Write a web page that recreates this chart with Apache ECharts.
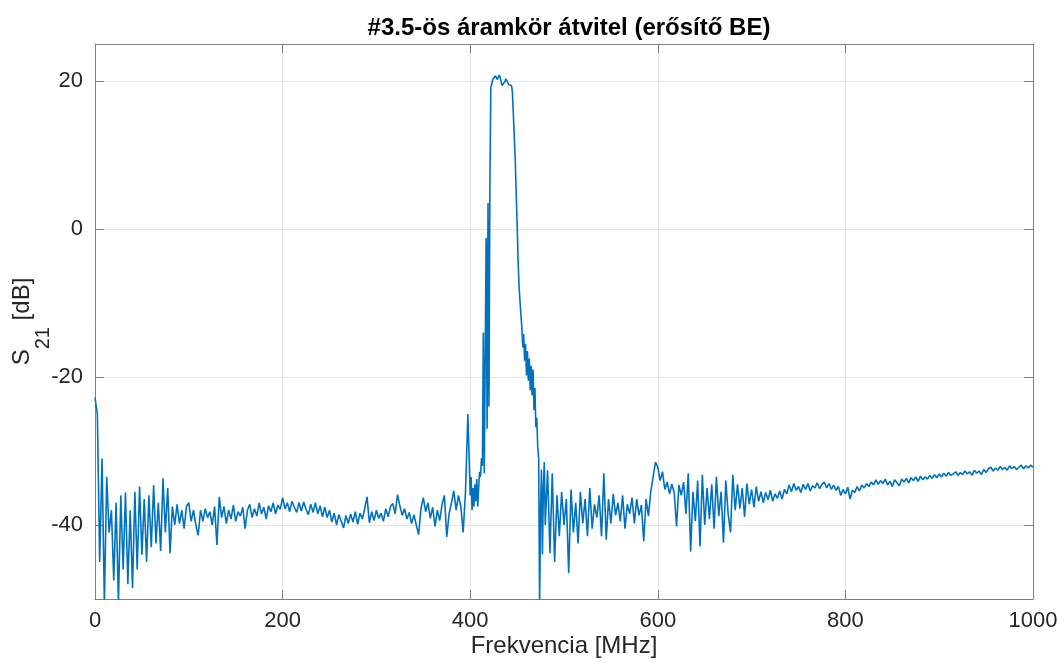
<!DOCTYPE html>
<html>
<head>
<meta charset="utf-8">
<script src="https://cdn.jsdelivr.net/npm/echarts@6/dist/echarts.min.js"></script>
<style>
html, body { margin: 0; padding: 0; background: #fff; }
#chart { width: 1062px; height: 662px; }
</style>
</head>
<body>
<div id="chart"></div>
<script>
// S21 meres - also resz (0..397.5 MHz, 2.5 MHz lepes)
var lowStart = 0, lowStep = 2.5;
var lowDb = [
    -22.8, -25, -45, -31, -50.5, -33.5, -41, -38, -47.5, -37,
    -50.5, -36, -46, -35.6, -48, -38, -48.5, -35.5, -46, -34.8,
    -44, -36.5, -45, -36, -43, -34.6, -42.5, -37, -43.5, -33.7,
    -41, -35, -43.8, -37.5, -40, -37.2, -39.8, -38, -40.5, -37.5,
    -37, -39.5, -38, -40, -41.4, -38, -39.5, -37.8, -39, -38.2,
    -40, -37.5, -42.7, -36.2, -39, -37.5, -39.8, -38, -39.2, -37.3,
    -39.5, -38.2, -38.8, -37.6, -40.5, -38, -37.2, -39, -37.8, -38.8,
    -37, -38.5, -37.6, -39.2, -37.4, -38.2, -37, -38.5, -37.3, -37.9,
    -36.3, -37.8, -37, -38.2, -36.8, -37.6, -38.3, -37, -38.1, -36.9,
    -37.9, -38.6, -37.2, -38.3, -37, -38.5, -37.4, -38.9, -37.6, -39,
    -38, -39.6, -38.4, -40, -38.6, -39.5, -40.4, -38.7, -39.8, -38.5,
    -39.6, -38.2, -39.9, -38.4, -39.2, -37.8, -36.2, -39.7, -38.2, -39.4,
    -38, -39.1, -38.4, -39.5, -37.8, -38.9, -37.5, -37.1, -38.5, -35.9,
    -37.4, -38.7, -37.8, -39.2, -38.3, -39.8, -38.6, -40, -41.3, -37.8,
    -36.3, -38.2, -37, -39.1, -37.6, -40.2, -38, -39.4, -37.2, -36,
    -41.6, -38.5, -37, -35.4, -38, -36, -37.5, -41, -35.5, -25
];

// atviteli sav (400..480 MHz, 1 MHz lepes)
var bandStart = 400, bandStep = 1;
var bandDb = [
    -36, -33.5, -38, -35, -37.5, -34.5, -36.8, -33.8, -37.5, -35,
    -32.8, -33.5, -31, -32, -14, -33, -17, -1.2, -27, 3.5,
    -24, 6, 19.2, 19.6, 20.2, 20.4, 20.3, 20.7, 20.5, 20.2,
    20.5, 20.8, 20.5, 19.9, 19.4, 19.3, 19.4, 19.9, 20.3, 20.2,
    19.8, 19.5, 19.5, 19.7, 19.4, 18.5, 15.5, 12.5, 9.3, 5,
    0.8, -4, -7.5, -9.6, -11.5, -13.2, -16, -14.2, -17.8, -15.5,
    -19.8, -16.5, -20.5, -17.5, -21.8, -18.5, -22.5, -19, -24.5, -21.5,
    -26.8, -25.5, -29.5, -31, -51, -38, -32.5, -44, -35, -31.5,
    -40
];

// felso resz (482.5..1000 MHz, 2.5 MHz lepes)
var highStart = 482.5, highStep = 2.5;
var highDb = [
    -32.6, -43.8, -33, -45, -36, -41.5, -35.5,
    -40, -36.5, -46.5, -35.2, -41, -37, -42.5, -35.5, -39.8, -36.5,
    -41.5, -35, -40.5, -37.2, -39, -36, -41.5, -33, -42, -36.5,
    -39.8, -35.8, -38.7, -37, -39.5, -36, -40.5, -37.2, -38.5, -36.3,
    -39.8, -36.5, -38.7, -37.3, -42.2, -36.5, -38.8, -35.5, -33.5, -31.5,
    -32.2, -34, -32.8, -35.2, -34.2, -35.8, -34.5, -35.6, -40.2, -34.6,
    -36, -34.2, -38.5, -33, -43.6, -35.5, -39.5, -34, -42.9, -33.2,
    -40, -35, -39.2, -34.5, -40.5, -33.5, -38.8, -35.5, -42.4, -34,
    -38.5, -41, -33.2, -38, -34.5, -37.8, -35, -38.9, -34.4, -37.2,
    -35.2, -37.6, -34.8, -36.8, -35.5, -37, -35.6, -36.6, -35.3, -36.8,
    -35.8, -36.4, -35.4, -36.5, -35.2, -35.8, -34.6, -35.5, -34.4, -35.3,
    -34.8, -35.6, -34.5, -35.2, -34.4, -35.4, -34.7, -35, -34.3, -35.1,
    -34.5, -34.2, -35, -34.4, -35.2, -34.6, -35.3, -34.8, -36, -35.2,
    -35.8, -34.9, -36.5, -35.3, -35.6, -34.8, -35.4, -34.6, -35, -34.4,
    -34.8, -34.2, -34.6, -33.9, -34.5, -34, -34.4, -33.8, -34.6, -34.1,
    -34.8, -33.9, -34.3, -34.7, -33.8, -34.2, -33.7, -34.3, -33.6, -34,
    -33.5, -34.1, -33.4, -33.9, -33.5, -33.8, -33.3, -33.7, -33.2, -33.6,
    -33.1, -33.5, -33, -33.4, -32.9, -33.3, -33.1, -32.8, -33.3, -32.9,
    -33.2, -32.7, -33.1, -32.8, -33.3, -32.6, -33, -32.7, -33.2, -32.5,
    -32.9, -32.4, -32.2, -32.7, -32.3, -32.6, -32.1, -32.5, -32.2, -32.6,
    -32, -32.4, -32.1, -32.5, -32.2, -31.9, -32.4, -32, -32.3, -31.9,
    -32.2
];

var yTicks = [-40, -20, 0, 20];

var font = 'Liberation Sans';
var axisColor = '#808080';
var gridColor = '#e6e6e6';
var textColor = '#262626';

// szakaszok osszefuzese [frekvencia, dB] parokba
var s21 = [];
function addSeg(start, step, vals) {
    for (var i = 0; i < vals.length; i++) {
        s21.push([start + i * step, vals[i]]);
    }
}
addSeg(lowStart, lowStep, lowDb);
addSeg(bandStart, bandStep, bandDb);
addSeg(highStart, highStep, highDb);

function plainNum(v) {
    return String(v);
}

var myChart = echarts.init(document.getElementById('chart'));
var option = {
    animation: false,
    title: {
        text: '#3.5-ös áramkör átvitel (erősítő BE)',
        left: 564,
        top: 11,
        textAlign: 'center',
        textStyle: { fontFamily: font, fontSize: 24, fontWeight: 'bold', color: '#000' }
    },
    grid: { left: 95, right: 29, top: 44, bottom: 63, containLabel: false, outerBoundsMode: 'none' },
    xAxis: [{
        type: 'value',
        min: 0,
        max: 1000,
        interval: 200,
        position: 'bottom',
        name: 'Frekvencia [MHz]',
        nameLocation: 'middle',
        nameGap: 35,
        nameMoveOverlap: false,
        nameTextStyle: { fontFamily: font, fontSize: 24, color: textColor },
        axisLine: { onZero: false, lineStyle: { color: axisColor, width: 1 } },
        axisTick: { inside: true, length: 9, lineStyle: { color: axisColor } },
        axisLabel: { margin: 11, fontFamily: font, fontSize: 22, color: textColor, formatter: plainNum },
        splitLine: { show: true, lineStyle: { color: gridColor, width: 1 } }
    }, {
        type: 'value',
        min: 0,
        max: 1000,
        interval: 200,
        position: 'top',
        axisLine: { onZero: false, lineStyle: { color: axisColor, width: 1 } },
        axisTick: { inside: true, length: 9, lineStyle: { color: axisColor } },
        axisLabel: { show: false },
        splitLine: { show: false }
    }],
    yAxis: [{
        type: 'value',
        min: -50,
        max: 25,
        position: 'left',
        name: '{a|S}{b|21}{a| [dB]}',
        nameLocation: 'middle',
        nameGap: 42,
        nameMoveOverlap: false,
        nameTextStyle: {
            rich: {
                a: { fontFamily: font, fontSize: 24, color: textColor },
                b: { fontFamily: font, fontSize: 20, color: textColor, padding: [42, 0, 0, 0] }
            }
        },
        axisLine: { onZero: false, lineStyle: { color: axisColor, width: 1 } },
        axisTick: { inside: true, length: 9, customValues: yTicks, lineStyle: { color: axisColor } },
        axisLabel: { margin: 12, fontFamily: font, fontSize: 22, color: textColor, customValues: yTicks, formatter: plainNum },
        splitLine: { show: true, lineStyle: { color: gridColor, width: 1 } }
    }, {
        type: 'value',
        min: -50,
        max: 25,
        position: 'right',
        axisLine: { onZero: false, lineStyle: { color: axisColor, width: 1 } },
        axisTick: { inside: true, length: 9, customValues: yTicks, lineStyle: { color: axisColor } },
        axisLabel: { show: false, customValues: yTicks },
        splitLine: { show: false }
    }],
    series: [{
        name: 'S21',
        type: 'line',
        xAxisIndex: 0,
        yAxisIndex: 0,
        data: s21,
        symbol: 'none',
        showSymbol: false,
        clip: true,
        lineStyle: { color: '#0072BD', width: 1.6 }
    }]
};
myChart.setOption(option);
</script>
</body>
</html>
